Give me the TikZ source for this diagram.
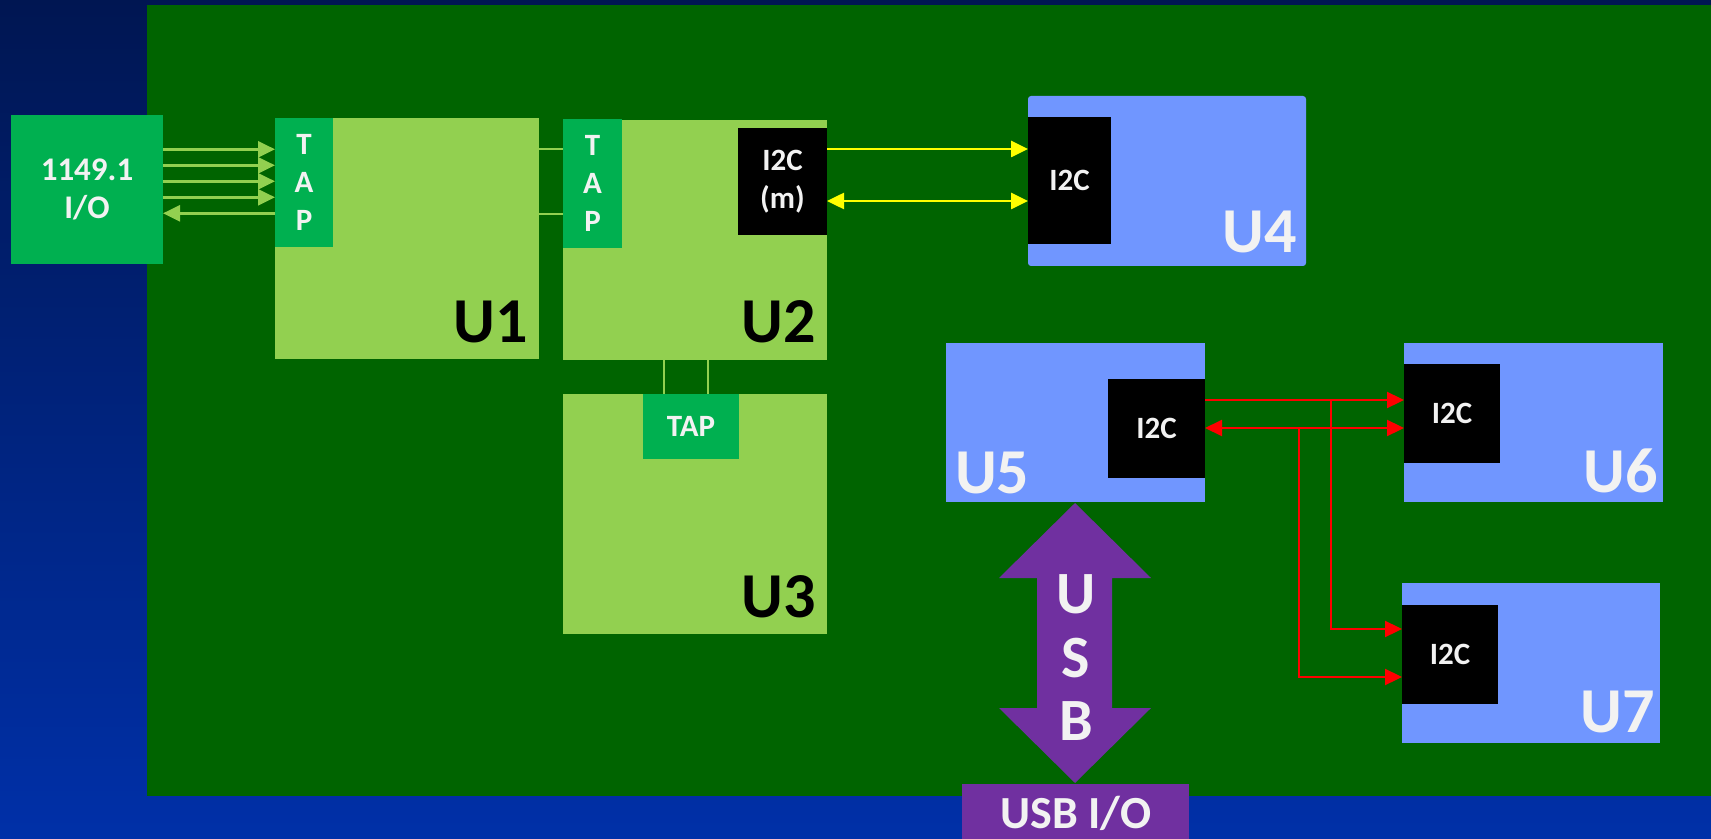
\documentclass[tikz,border=0pt]{standalone}
\usepackage{fontspec}
\setmainfont{Carlito}
\usetikzlibrary{arrows.meta}
\definecolor{board}{RGB}{0,100,0}
\definecolor{chip}{RGB}{146,208,80}
\definecolor{tapg}{RGB}{0,176,80}
\definecolor{blu}{RGB}{112,150,255}
\definecolor{purp}{RGB}{112,48,160}
\definecolor{wt}{RGB}{242,242,242}
\definecolor{bgtop}{RGB}{0,22,82}
\definecolor{bgbot}{RGB}{0,48,168}
\definecolor{yel}{RGB}{255,255,0}
\definecolor{rd}{RGB}{255,0,0}
\tikzset{
  blkbase/.style={anchor=north west, inner sep=0pt, outer sep=0pt, draw=none},
  smalltxt/.style={text=wt, font=\fontsize{15.5}{19}\selectfont\bfseries, align=center},
  iotxt/.style={text=wt, font=\fontsize{16.5}{19}\selectfont\bfseries, align=center},
  biglbl/.style={inner sep=0pt, outer sep=0pt, font=\fontsize{32}{38}\selectfont\bfseries},
  usbtxt/.style={inner sep=0pt, outer sep=0pt, text=wt, font=\fontsize{30}{36}\selectfont\bfseries},
  usbiotxt/.style={inner sep=0pt, outer sep=0pt, text=wt, font=\fontsize{23}{28}\selectfont\bfseries},
  tip/.style={-{Triangle[length=8.5pt,width=8pt]}},
  dtip/.style={{Triangle[length=8.5pt,width=8pt]}-{Triangle[length=8.5pt,width=8pt]}},
  glink/.style={draw=chip, line width=1.3pt},
  gthin/.style={draw=chip, line width=0.9pt},
  ylink/.style={draw=yel, line width=1.3pt},
  rlink/.style={draw=rd, line width=1.1pt},
}
\newcommand\blkn[8][]{\node[blkbase, fill=#7, minimum width={(#5-#3)*0.5pt}, minimum height={(#6-#4)*0.5pt}, #1] (#2) at (#3,#4) {#8};}
\begin{document}
\begin{tikzpicture}[x=0.5pt, y=-0.5pt]
\useasboundingbox (0,0) rectangle (1711,839);
\clip (0,0) rectangle (1711,839);
\shade[top color=bgtop, bottom color=bgbot] (0,0) rectangle (1711,839);
% board
\fill[board] (147,5) rectangle (1715,796);
% 1149.1 I/O
\blkn[iotxt]{io}{11}{115}{163}{264}{tapg}{1149.1\\I/O}
% U1
\blkn{u1}{275}{118}{539}{359}{chip}{}
\blkn[smalltxt]{tap1}{275}{118}{333}{247}{tapg}{T\\A\\P}
\node[biglbl, anchor=base east] (u1l) at (528,343) {U1};
% U2
\blkn{u2}{563}{120}{827}{360}{chip}{}
\blkn[smalltxt]{tap2}{563}{119}{622}{248}{tapg}{T\\A\\P}
\blkn[smalltxt]{i2cm}{738}{128}{827}{235}{black}{I2C\\(m)}
\node[biglbl, anchor=base east] (u2l) at (816,343) {U2};
% U3
\blkn{u3}{563}{394}{827}{634}{chip}{}
\blkn[smalltxt]{tap3}{643}{394}{739}{459}{tapg}{TAP}
\node[biglbl, anchor=base east] (u3l) at (816,617) {U3};
% U4
\blkn[rounded corners=1.5pt]{u4}{1028}{96}{1306}{266}{blu}{}
\blkn[smalltxt]{i2c4}{1028}{117}{1111}{244}{black}{I2C}
\node[biglbl, text=wt, anchor=base east] (u4l) at (1297,253) {U4};
% U5
\blkn{u5}{946}{343}{1205}{502}{blu}{}
\blkn[smalltxt]{i2c5}{1108}{379}{1205}{478}{black}{I2C}
\node[biglbl, text=wt, anchor=base west] (u5l) at (955,493) {U5};
% U6
\blkn{u6}{1404}{343}{1663}{502}{blu}{}
\blkn[smalltxt]{i2c6}{1404}{364}{1500}{463}{black}{I2C}
\node[biglbl, text=wt, anchor=base east] (u6l) at (1658,492) {U6};
% U7
\blkn{u7}{1402}{583}{1660}{743}{blu}{}
\blkn[smalltxt]{i2c7}{1402}{605}{1498}{704}{black}{I2C}
\node[biglbl, text=wt, anchor=base east] (u7l) at (1655,732) {U7};
% JTAG arrows
\coordinate (a1) at (0,149.3);
\coordinate (a2) at (0,165.3);
\coordinate (a3) at (0,181.3);
\coordinate (a4) at (0,197.3);
\coordinate (a5) at (0,213.3);
\draw[glink, tip] (io.east |- a1) -- (tap1.west |- a1);
\draw[glink, tip] (io.east |- a2) -- (tap1.west |- a2);
\draw[glink, tip] (io.east |- a3) -- (tap1.west |- a3);
\draw[glink, tip] (io.east |- a4) -- (tap1.west |- a4);
\draw[glink, tip] (tap1.west |- a5) -- (io.east |- a5);
% U1 to U2 TAP
\coordinate (b1) at (0,149);
\coordinate (b2) at (0,214);
\draw[gthin] (u1.east |- b1) -- (tap2.west |- b1);
\draw[gthin] (u1.east |- b2) -- (tap2.west |- b2);
% U2 to U3 TAP
\coordinate (c1) at (664,0);
\coordinate (c2) at (708,0);
\draw[gthin] (u2.south -| c1) -- (tap3.north -| c1);
\draw[gthin] (u2.south -| c2) -- (tap3.north -| c2);
% yellow I2C
\coordinate (y1) at (0,149);
\coordinate (y2) at (0,201);
\draw[ylink, tip] (i2cm.east |- y1) -- (i2c4.west |- y1);
\draw[ylink, dtip] (i2cm.east |- y2) -- (i2c4.west |- y2);
% red I2C
\coordinate (r1) at (0,400);
\coordinate (r2) at (0,428);
\coordinate (r3) at (0,629);
\coordinate (r4) at (0,677);
\coordinate (va) at (1331,0);
\coordinate (vb) at (1299,0);
\draw[rlink, tip] (i2c5.east |- r1) -- (i2c6.west |- r1);
\draw[rlink, dtip] (i2c5.east |- r2) -- (i2c6.west |- r2);
\draw[rlink, tip] (va |- r1) |- (i2c7.west |- r3);
\draw[rlink, tip] (vb |- r2) |- (i2c7.west |- r4);
% USB arrow
\fill[purp] (1075,503) -- (1151,578) -- (1112,578) -- (1112,708) -- (1151,708) -- (1075,783)
  -- (999,708) -- (1037,708) -- (1037,578) -- (999,578) -- cycle;
\node[usbtxt, anchor=base] (usbu) at (1076,613) {U};
\node[usbtxt, anchor=base] (usbs) at (1076,677) {S};
\node[usbtxt, anchor=base] (usbb) at (1076,740) {B};
% USB I/O
\blkn{usbio}{962}{784}{1189}{850}{purp}{}
\node[usbiotxt, anchor=base] (usbiol) at (1076,828) {USB I/O};
\end{tikzpicture}
\end{document}
